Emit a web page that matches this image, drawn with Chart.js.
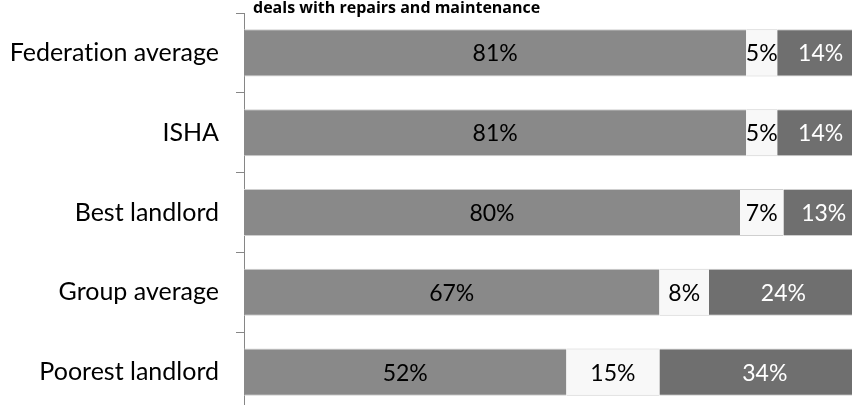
<!DOCTYPE html>
<html>
<head>
<meta charset="utf-8">
<script src="https://cdn.jsdelivr.net/npm/chart.js@4.4.1/dist/chart.umd.min.js"></script>
<style>
  html, body { margin: 0; padding: 0; background: #ffffff; overflow: hidden; }
  #wrap { width: 864px; height: 412px; }
</style>
</head>
<body>
<div id="wrap"><canvas id="c" width="864" height="412"></canvas></div>
<script>
const landlords = ['Federation average', 'ISHA', 'Best landlord', 'Group average', 'Poorest landlord'];
const satisfied = [81, 81, 80, 67, 52];
const neither = [5, 5, 7, 8, 15];
const dissatisfied = [14, 14, 13, 24, 34];
const chartTitle = 'deals with repairs and maintenance';

const LABEL_FONT = '"Lato", "Noto Sans", sans-serif';

// Plain glyphs, no ligatures, for all canvas text
const plainText = {
  id: 'plainText',
  beforeDraw(chart) {
    if ('textRendering' in chart.ctx) chart.ctx.textRendering = 'optimizeSpeed';
  }
};

// Percentage written in the middle of every bar segment
const segmentLabels = {
  id: 'segmentLabels',
  afterDatasetsDraw(chart) {
    const ctx = chart.ctx;
    ctx.save();
    ctx.font = '23px ' + LABEL_FONT;
    ctx.textAlign = 'center';
    ctx.textBaseline = 'middle';
    chart.data.datasets.forEach((ds, di) => {
      const meta = chart.getDatasetMeta(di);
      meta.data.forEach((bar, i) => {
        const cx = (bar.x + bar.base) / 2;
        ctx.fillStyle = ds.labelColor;
        ctx.fillText(ds.data[i] + '%', cx, bar.y + 1);
      });
    });
    ctx.restore();
  }
};

// Heading line above the plot
const headingText = {
  id: 'headingText',
  afterDraw(chart) {
    const ctx = chart.ctx;
    ctx.save();
    ctx.font = 'bold 16px "Open Sans", sans-serif';
    ctx.fillStyle = '#000000';
    ctx.textAlign = 'left';
    ctx.textBaseline = 'alphabetic';
    ctx.fillText(chartTitle, chart.chartArea.left + 9, 13);
    ctx.restore();
  }
};

new Chart(document.getElementById('c'), {
  type: 'bar',
  data: {
    labels: landlords,
    datasets: [
      { label: 'Satisfied', data: satisfied, backgroundColor: '#898989', labelColor: '#000000' },
      { label: 'Neither', data: neither, backgroundColor: '#f8f8f8', labelColor: '#000000' },
      { label: 'Dissatisfied', data: dissatisfied, backgroundColor: '#6f6f6f', labelColor: '#ffffff' }
    ].map(d => Object.assign(d, {
      borderColor: '#cfcfcf',
      borderWidth: { top: 1, bottom: 1, left: 0, right: 0 },
      barPercentage: 0.59,
      categoryPercentage: 1
    }))
  },
  options: {
    indexAxis: 'y',
    responsive: false,
    animation: false,
    devicePixelRatio: 1,
    layout: { padding: { top: 13, left: 0, right: 0, bottom: 0 } },
    plugins: { legend: { display: false }, tooltip: { enabled: false }, title: { display: false } },
    scales: {
      x: { stacked: true, min: 0, max: 100, display: false },
      y: {
        stacked: true,
        afterFit(scale) {
          scale.width = 244;
          scale.paddingTop = 0;
          scale.paddingBottom = 0;
        },
        border: { display: true, color: '#868686', width: 1 },
        grid: { offset: true, drawOnChartArea: false, drawTicks: true, tickLength: 8, color: '#868686', lineWidth: 1 },
        ticks: { color: '#000000', padding: 17, font: { family: LABEL_FONT, size: 25 } }
      }
    }
  },
  plugins: [plainText, segmentLabels, headingText]
});
</script>
</body>
</html>
